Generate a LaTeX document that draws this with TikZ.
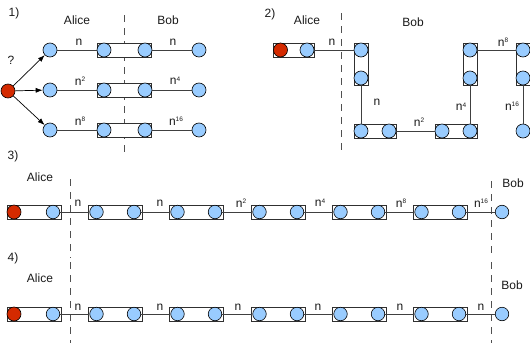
\documentclass[tikz,border=0pt]{standalone}
\usepackage{fontspec}
\setmainfont{Liberation Sans}
\usetikzlibrary{arrows.meta}
\definecolor{qblue}{HTML}{99CCFF}
\definecolor{qredc}{HTML}{D42A00}
\definecolor{boxgray}{HTML}{303030}
\definecolor{linegray}{HTML}{404040}
\definecolor{sepgray}{HTML}{505050}
\definecolor{txt}{HTML}{1A1A1A}
\newcommand\npow[1]{n\raisebox{0.55ex}{\fontsize{6.5}{6.5}\selectfont #1}}
\tikzset{
  qubit/.style={circle, draw=black, fill=qblue, minimum size=14pt, inner sep=0pt, line width=0.6pt},
  qred/.style={qubit, fill=qredc},
  pairbox/.style={rectangle, draw=boxgray, fill=white, inner sep=0pt, line width=0.8pt},
  hbox/.style={pairbox, minimum width=54pt, minimum height=14pt},
  link/.style={draw=linegray, line width=0.7pt},
  sep/.style={draw=sepgray, dash pattern=on 7pt off 6pt, line width=0.7pt},
  lbl/.style={font=\fontsize{12}{14}\selectfont, text=txt, inner sep=0pt},
  arr/.style={link, draw=black, -{Latex[length=7pt,width=5pt]}}
}
\begin{document}
\begin{tikzpicture}[x=1pt,y=-1pt]
\useasboundingbox (0,0) rectangle (530,343);
% ---------- panel 1 ----------
\node[lbl] (t1) at (14,13) {1)};
\node[lbl] (q1) at (11,60) {?};
\node[lbl] (al1) at (77,20) {Alice};
\node[lbl] (bo1) at (168,20) {Bob};
\coordinate (s1a) at (124,15);
\coordinate (s1b) at (124,152);
\draw[sep] (s1a) -- (s1b);
\node[qred] (r1) at (8,91) {};
\foreach \k/\y in {1/50,2/90,3/130}{
  \node[hbox] (b1\k) at (124.5,\y) {};
  \node[qubit] (a1\k) at (50,\y) {};
  \node[qubit] (c1\k) at (104,\y) {};
  \node[qubit] (d1\k) at (145,\y) {};
  \node[qubit] (e1\k) at (199,\y) {};
  \draw[link] (a1\k) -- (c1\k);
  \draw[link] (d1\k) -- (e1\k);
  \draw[arr] (r1) -- (a1\k);
}
\node[lbl] (l11) at (79,42) {n};
\node[lbl] (l12) at (173,42) {n};
\node[lbl] (l13) at (80,81) {\npow{2}};
\node[lbl] (l14) at (175,81) {\npow{4}};
\node[lbl] (l15) at (80,121) {\npow{8}};
\node[lbl] (l16) at (176,121) {\npow{16}};
% ---------- panel 2 ----------
\node[lbl] (t2) at (270,14) {2)};
\node[lbl] (al2) at (307,20) {Alice};
\node[lbl] (bo2) at (413,22) {Bob};
\coordinate (s2a) at (341,13);
\coordinate (s2b) at (341,152);
\draw[sep] (s2a) -- (s2b);
\node[pairbox, minimum width=41pt, minimum height=14pt] (h1) at (293.5,50) {};
\node[qred] (h1a) at (280.5,50) {};
\node[qubit] (h1b) at (307,50) {};
\node[pairbox, minimum width=14pt, minimum height=42pt] (v1) at (361,64) {};
\node[qubit] (v1a) at (361,50) {};
\node[qubit] (v1b) at (361,78) {};
\node[pairbox, minimum width=42pt, minimum height=14pt] (h2) at (375,131) {};
\node[qubit] (h2a) at (361,131) {};
\node[qubit] (h2b) at (389,131) {};
\node[pairbox, minimum width=42pt, minimum height=14pt] (h3) at (456,131) {};
\node[qubit] (h3a) at (442,131) {};
\node[qubit] (h3b) at (470,131) {};
\node[pairbox, minimum width=14pt, minimum height=42pt] (v2) at (470,64) {};
\node[qubit] (v2a) at (470,50) {};
\node[qubit] (v2b) at (470,78) {};
\node[pairbox, minimum width=14pt, minimum height=42pt] (v3) at (523,64) {};
\node[qubit] (v3a) at (523,50) {};
\node[qubit] (v3b) at (523,78) {};
\node[qubit] (z2) at (523,131) {};
\draw[link] (h1b) -- (v1a);
\draw[link] (v1b) -- (h2a);
\draw[link] (h2b) -- (h3a);
\draw[link] (h3b) -- (v2b);
\draw[link] (v2a) -- (v3a);
\draw[link] (v3b) -- (z2);
\node[lbl] (l21) at (332,42) {n};
\node[lbl] (l22) at (377,102) {n};
\node[lbl] (l23) at (419,122) {\npow{2}};
\node[lbl] (l24) at (461,107) {\npow{4}};
\node[lbl] (l25) at (503,42) {\npow{8}};
\node[lbl] (l26) at (512,106) {\npow{16}};
% ---------- panels 3 and 4 ----------
\node[lbl] (t3) at (13,156) {3)};
\node[lbl] (al3) at (40,177) {Alice};
\node[lbl] (bo3) at (513,183) {Bob};
\node[lbl] (t4) at (13,258) {4)};
\node[lbl] (al4) at (40,278) {Alice};
\node[lbl] (bo4) at (512,285) {Bob};
\coordinate (s3a) at (70,179);
\coordinate (s3b) at (70,258);
\coordinate (s3c) at (491,181);
\coordinate (s3d) at (491,258);
\coordinate (s4a) at (70,262);
\coordinate (s4b) at (70,343);
\coordinate (s4c) at (491,262);
\coordinate (s4d) at (491,343);
\draw[sep] (s3a) -- (s3b);
\draw[sep] (s3c) -- (s3d);
\draw[sep] (s4a) -- (s4b);
\draw[sep] (s4c) -- (s4d);
\foreach \p/\y in {3/212,4/314}{
  \node[hbox] (p\p b1) at (34,\y) {};
  \node[qred] (p\p l1) at (14,\y) {};
  \node[qubit, minimum size=13.5pt] (p\p r1) at (53,\y) {};
  \foreach \i/\l in {2/88,3/169,4/251,5/332,6/413}{
    \node[hbox] (p\p b\i) at (\l+27,\y) {};
    \node[qubit, minimum size=13.5pt] (p\p l\i) at (\l+8.5,\y) {};
    \node[qubit, minimum size=13.5pt] (p\p r\i) at (\l+46,\y) {};
  }
  \node[qubit, minimum size=13.5pt] (p\p l7) at (502,\y) {};
  \foreach \i/\j in {1/2,2/3,3/4,4/5,5/6,6/7}{
    \draw[link] (p\p r\i) -- (p\p l\j);
  }
}
\node[lbl] (l31) at (78,203) {n};
\node[lbl] (l32) at (160,203) {n};
\node[lbl] (l33) at (241,203) {\npow{2}};
\node[lbl] (l34) at (320,203) {\npow{4}};
\node[lbl] (l35) at (401,203) {\npow{8}};
\node[lbl] (l36) at (481,203) {\npow{16}};
\foreach \i/\x in {1/78,2/160,3/238,4/318,5/400,6/481}{
  \node[lbl] (l4\i) at (\x,307) {n};
}
\end{tikzpicture}
\end{document}
